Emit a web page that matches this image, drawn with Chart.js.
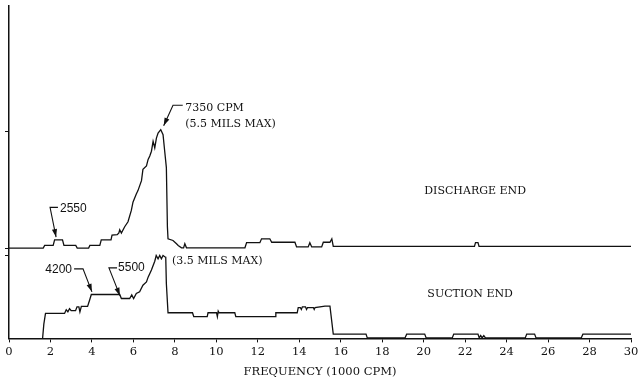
<!DOCTYPE html>
<html>
<head>
<meta charset="utf-8">
<script src="https://cdn.jsdelivr.net/npm/chart.js@4.4.1/dist/chart.umd.min.js"></script>
<style>
  html, body { margin: 0; padding: 0; background: #fff; }
  #wrap { width: 643px; height: 384px; position: relative; }
</style>
</head>
<body>
<div id="wrap"><canvas id="chart-1"></canvas></div>
<script>
// frequency in 1000 CPM, amplitude in mils
const dischargeFreq = [0, 1.65, 1.72, 2.13, 2.2, 2.58, 2.65, 3.22, 3.29, 3.84, 3.9, 4.38, 4.45, 4.92, 4.97,
  5.22, 5.3, 5.34, 5.42, 5.58, 5.74, 5.9, 5.98, 6.14, 6.22, 6.39, 6.46, 6.63, 6.71, 6.79, 6.87, 6.95,
  7.03, 7.11, 7.19, 7.32, 7.43, 7.51, 7.59, 7.64, 7.67, 7.91, 8.08, 8.16, 8.32, 8.42, 8.48, 8.56,
  11.38, 11.46, 12.1, 12.18, 12.58, 12.67, 13.79, 13.87, 14.43, 14.51, 14.6, 15.08, 15.16, 15.48,
  15.57, 15.64, 22.45, 22.5, 22.62, 22.67, 30];
const dischargeAmp = [0, 0, 0.12, 0.12, 0.38, 0.38, 0.12, 0.12, 0, 0, 0.12, 0.12, 0.38, 0.38, 0.6,
  0.62, 0.7, 0.85, 0.7, 0.99, 1.22, 1.75, 2.13, 2.51, 2.67, 3.13, 3.66, 3.82, 4.12, 4.28, 4.5, 4.96,
  4.66, 5.11, 5.34, 5.5, 5.27, 4.5, 3.74, 0.99, 0.43, 0.35, 0.2, 0.12, 0.01, 0.01, 0.2, 0.01,
  0.01, 0.25, 0.25, 0.43, 0.43, 0.27, 0.27, 0.05, 0.05, 0.25, 0.05, 0.05, 0.27, 0.27,
  0.43, 0.08, 0.08, 0.25, 0.25, 0.08, 0.08];

const suctionFreq = [1.62, 1.68, 1.76, 2.68, 2.76, 2.84, 2.92, 3.0, 3.21, 3.28, 3.37, 3.42, 3.49, 3.79,
  3.89, 3.97, 5.34, 5.42, 5.82, 5.92, 6.01, 6.14, 6.3, 6.46, 6.63, 6.71, 6.87, 7.03, 7.1, 7.19, 7.27,
  7.35, 7.43, 7.51, 7.56, 7.59, 7.67, 8.85, 8.91, 9.56, 9.6, 10.01, 10.05, 10.09, 10.13, 10.89, 10.94,
  12.83, 12.87, 13.9, 13.95, 14.05, 14.1, 14.15, 14.3, 14.35, 14.4, 14.68, 14.72, 14.76, 15.24, 15.48,
  15.64, 17.22, 17.28, 19.1, 19.18, 20.05, 20.12, 21.38, 21.45, 22.62, 22.68, 22.75, 22.82, 22.9,
  22.98, 24.9, 24.97, 25.35, 25.42, 27.6, 27.68, 30];
const suctionAmp = [0, 0.6, 1.05, 1.05, 1.21, 1.12, 1.25, 1.17, 1.17, 1.33, 1.33, 1.12, 1.35, 1.35,
  1.62, 1.85, 1.85, 1.68, 1.68, 1.83, 1.68, 1.89, 1.96, 2.24, 2.38, 2.58, 2.88, 3.25, 3.49, 3.35, 3.49,
  3.35, 3.49, 3.44, 3.42, 2.3, 1.08, 1.08, 0.92, 0.92, 1.08, 1.08, 0.92, 1.15, 1.08, 1.08, 0.92,
  0.92, 1.08, 1.08, 1.3, 1.3, 1.22, 1.33, 1.33, 1.22, 1.3, 1.3, 1.22, 1.3, 1.36, 1.36,
  0.18, 0.18, 0.02, 0.02, 0.18, 0.18, 0.02, 0.02, 0.18, 0.18, 0.02, 0.12, 0.02, 0.12,
  0.02, 0.02, 0.18, 0.18, 0.02, 0.02, 0.18, 0.18];

const freqTicks = [0, 2, 4, 6, 8, 10, 12, 14, 16, 18, 20, 22, 24, 26, 28, 30];
const sideTicks = [3.5, 3.8, 8.7];

const serif = "'DejaVu Serif', serif";
const sans = "'Liberation Sans', Arial, sans-serif";

// callouts: text, anchor (freq, amp), leader path ending at the arrow tip
const notes = [
  {axis: 'y2', lines: ['7350 CPM', '(5.5 MILS MAX)'], at: [8.5, 6.5], gap: 16, font: '11px ' + serif, align: 'left',
    lead: [[8.38, 6.64], [7.91, 6.64], [7.46, 5.68]]},
  {axis: 'y2', lines: ['2550'], at: [2.46, 1.84], font: '12px ' + sans, align: 'left',
    lead: [[2.36, 1.89], [1.98, 1.89], [2.27, 0.51]]},
  {axis: 'y', lines: ['4200'], at: [3.04, 2.88], font: '12px ' + sans, align: 'right',
    lead: [[3.14, 2.93], [3.57, 2.93], [4.0, 1.96]]},
  {axis: 'y', lines: ['5500'], at: [5.26, 2.97], font: '12px ' + sans, align: 'left',
    lead: [[5.21, 2.97], [4.82, 2.97], [5.35, 1.8]]},
  {axis: 'y', lines: ['(3.5 MILS MAX)'], at: [7.86, 3.26], font: '11px ' + serif, align: 'left'},
  {axis: 'y2', lines: ['DISCHARGE END'], at: [22.48, 2.63], font: '11px ' + serif, align: 'center'},
  {axis: 'y', lines: ['SUCTION END'], at: [22.24, 1.88], font: '11px ' + serif, align: 'center'}
];

function toPoints(xs, ys) {
  return xs.map((x, i) => ({x: x, y: ys[i]}));
}

const callouts = {
  id: 'callouts',
  afterDatasetsDraw(chart) {
    const ctx = chart.ctx;
    const sx = chart.scales.x;
    ctx.save();
    ctx.fillStyle = '#111';
    ctx.strokeStyle = '#111';
    ctx.lineWidth = 1.1;
    notes.forEach(n => {
      const sy = chart.scales[n.axis];
      ctx.font = n.font;
      ctx.textAlign = n.align;
      ctx.textBaseline = 'middle';
      const tx = sx.getPixelForValue(n.at[0]);
      const ty = sy.getPixelForValue(n.at[1]);
      n.lines.forEach((s, i) => ctx.fillText(s, tx, ty + i * (n.gap || 14)));
      if (n.lead) {
        const pts = n.lead.map(p => [sx.getPixelForValue(p[0]), sy.getPixelForValue(p[1])]);
        ctx.beginPath();
        ctx.moveTo(pts[0][0], pts[0][1]);
        pts.slice(1).forEach(p => ctx.lineTo(p[0], p[1]));
        ctx.stroke();
        const a = pts[pts.length - 2], b = pts[pts.length - 1];
        const ang = Math.atan2(b[1] - a[1], b[0] - a[0]);
        ctx.beginPath();
        ctx.moveTo(b[0], b[1]);
        ctx.lineTo(b[0] - 8 * Math.cos(ang) + 2.6 * Math.sin(ang), b[1] - 8 * Math.sin(ang) - 2.6 * Math.cos(ang));
        ctx.lineTo(b[0] - 8 * Math.cos(ang) - 2.6 * Math.sin(ang), b[1] - 8 * Math.sin(ang) + 2.6 * Math.cos(ang));
        ctx.closePath();
        ctx.fill();
      }
    });
    ctx.restore();
  }
};

const ctx = document.getElementById('chart-1');

new Chart(ctx, {
  type: 'line',
  data: {
    datasets: [{
      label: 'Discharge end',
      data: toPoints(dischargeFreq, dischargeAmp),
      yAxisID: 'y2',
      borderColor: '#111',
      borderWidth: 1.3,
      pointRadius: 0,
      tension: 0
    }, {
      label: 'Suction end',
      data: toPoints(suctionFreq, suctionAmp),
      yAxisID: 'y',
      borderColor: '#111',
      borderWidth: 1.3,
      pointRadius: 0,
      tension: 0
    }]
  },
  options: {
    responsive: true,
    maintainAspectRatio: false,
    animation: false,
    layout: {padding: {left: 5, right: 12, top: 6, bottom: 5}},
    plugins: {
      legend: {display: false},
      tooltip: {enabled: false}
    },
    scales: {
      x: {
        type: 'linear',
        min: 0,
        max: 30,
        afterBuildTicks: s => { s.ticks = freqTicks.map(v => ({value: v})); },
        ticks: {color: '#111', font: {family: serif, size: 11.5}, padding: 3, maxRotation: 0},
        grid: {drawOnChartArea: false, drawTicks: true, tickLength: 4, color: '#111'},
        border: {color: '#111', width: 1.5},
        title: {display: true, text: 'FREQUENCY (1000 CPM)', color: '#111',
          font: {family: serif, size: 11.5}, padding: {top: 3, bottom: 0}}
      },
      y: {
        position: 'left',
        min: 0,
        max: 14,
        afterBuildTicks: s => { s.ticks = sideTicks.map(v => ({value: v})); },
        ticks: {display: false},
        grid: {drawOnChartArea: false, drawTicks: true, tickLength: 4, color: '#111'},
        border: {color: '#111', width: 1.5}
      },
      y2: {
        display: false,
        min: -4.2,
        max: 11.25
      }
    }
  },
  plugins: [callouts]
});
</script>
</body>
</html>
